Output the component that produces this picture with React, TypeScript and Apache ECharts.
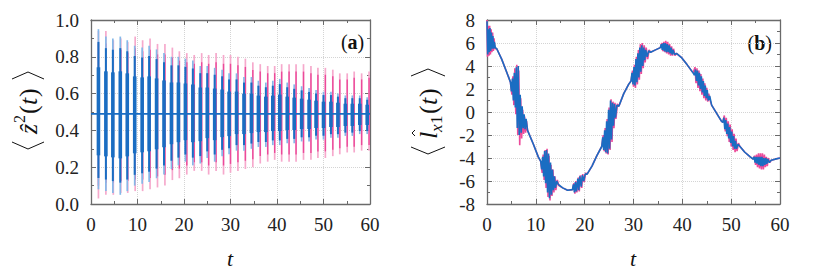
import React, { useEffect, useRef } from "react";
import * as echarts from "echarts";

// ---------- Panel (a): spikes of <z^2(t)> ----------
const BASE_A = [0.49];
const blueT = [1.6, 3.2, 4.7, 6.3, 7.8, 9.4, 11.0, 12.5, 14.1, 15.7, 17.3, 18.8, 20.3, 21.9, 23.5, 25.0, 26.6, 28.2, 29.7, 31.3, 32.9, 34.5, 36.0, 37.6, 39.1, 40.6, 42.2, 43.7, 45.3, 46.9, 48.4, 50.0, 51.6, 53.1, 54.7, 56.2, 57.8, 59.4];
const blueMax = [0.95, 0.91, 0.9, 0.91, 0.89, 0.86, 0.85, 0.86, 0.84, 0.82, 0.8, 0.8, 0.79, 0.78, 0.75, 0.75, 0.74, 0.73, 0.71, 0.71, 0.69, 0.69, 0.67, 0.66, 0.67, 0.68, 0.66, 0.65, 0.64, 0.63, 0.62, 0.61, 0.61, 0.6, 0.59, 0.59, 0.59, 0.58];
const blueMin = [0.08, 0.07, 0.06, 0.05, 0.07, 0.1, 0.11, 0.12, 0.14, 0.16, 0.19, 0.21, 0.23, 0.21, 0.22, 0.25, 0.23, 0.26, 0.27, 0.29, 0.29, 0.3, 0.31, 0.31, 0.32, 0.32, 0.33, 0.33, 0.34, 0.34, 0.35, 0.35, 0.36, 0.36, 0.37, 0.37, 0.38, 0.38];
const pinkT = [1.6, 3.2, 4.8, 6.4, 7.9, 9.5, 11.1, 12.7, 14.3, 15.9, 17.5, 19.0, 20.6, 22.2, 23.8, 25.3, 26.9, 28.5, 30.0, 31.6, 33.2, 34.8, 36.4, 38.0, 39.5, 41.0, 42.6, 44.1, 45.7, 47.3, 48.8, 50.4, 52.0, 53.5, 55.1, 56.6, 58.2, 59.8];
const pinkMax = [0.94, 0.94, 0.89, 0.9, 0.88, 0.91, 0.89, 0.9, 0.87, 0.87, 0.85, 0.83, 0.82, 0.81, 0.82, 0.81, 0.82, 0.81, 0.81, 0.8, 0.79, 0.77, 0.76, 0.75, 0.75, 0.76, 0.76, 0.76, 0.76, 0.75, 0.74, 0.74, 0.73, 0.71, 0.71, 0.72, 0.71, 0.72];
const pinkMin = [0.03, 0.05, 0.05, 0.06, 0.06, 0.07, 0.07, 0.08, 0.09, 0.1, 0.13, 0.14, 0.16, 0.18, 0.18, 0.16, 0.18, 0.16, 0.17, 0.18, 0.19, 0.2, 0.22, 0.23, 0.24, 0.23, 0.23, 0.23, 0.24, 0.24, 0.25, 0.25, 0.26, 0.27, 0.28, 0.28, 0.29, 0.29];

// ---------- Panel (b): <l_x1(t)> ----------
const bBlue: number[][] = [
  [0, 7.9], [0.15, 5.0], [0.3, 7.2], [0.45, 5.2], [0.6, 7.3], [0.75, 5.3], [0.9, 6.9], [1.05, 5.5], [1.2, 6.6], [1.35, 5.5], [1.5, 6.1], [1.7, 5.6], [2.0, 5.5],
  [3.0, 4.6], [4.0, 3.5], [4.8, 2.6],
  [5.0, 1.8], [5.2, 2.9], [5.4, 1.0], [5.6, 3.4], [5.8, 0.4], [6.0, 3.9], [6.2, -1.4], [6.4, 4.0], [6.6, -2.0], [6.8, 1.5], [7.0, -1.8], [7.2, 0.5], [7.4, -1.4], [7.6, -0.2], [7.8, -1.5], [8.0, -0.6], [8.3, -1.6],
  [9.5, -2.8], [10.5, -3.9], [11.0, -4.3],
  [11.2, -5.0], [11.4, -3.9], [11.6, -5.6], [11.8, -3.4], [12.0, -6.2], [12.2, -3.3], [12.4, -7.0], [12.6, -3.6], [12.8, -7.5], [13.0, -4.4], [13.2, -7.2], [13.4, -5.0], [13.6, -6.8], [13.8, -5.6], [14.0, -6.6], [14.3, -6.0], [14.6, -6.3],
  [15.5, -6.6], [16.5, -6.8], [17.5, -6.75],
  [17.7, -6.3], [17.9, -7.0], [18.1, -6.1], [18.3, -6.9], [18.6, -5.8], [18.8, -6.8], [19.0, -5.6], [19.3, -6.5], [19.5, -5.5], [19.8, -6.0], [20.1, -5.4], [20.5, -5.4],
  [21.5, -4.7], [22.5, -3.8], [23.5, -3.0],
  [23.7, -2.2], [23.9, -3.3], [24.1, -1.6], [24.3, -3.5], [24.5, -0.8], [24.7, -3.6], [24.9, 0.2], [25.1, -3.2], [25.3, 1.0], [25.5, -2.4], [25.7, 0.8], [25.9, -1.2], [26.1, 0.7], [26.3, -0.5], [26.6, 0.6], [27.0, 0.5],
  [28.0, 1.6], [29.0, 2.4], [29.5, 2.7],
  [29.7, 3.4], [29.9, 2.4], [30.1, 3.9], [30.3, 2.3], [30.5, 4.6], [30.7, 2.6], [30.9, 5.1], [31.1, 3.0], [31.3, 5.6], [31.5, 3.5], [31.7, 5.8], [31.9, 4.0], [32.1, 5.6], [32.3, 4.5], [32.5, 5.4], [32.8, 4.8], [33.1, 5.3], [33.5, 5.2],
  [34.5, 5.4], [35.5, 5.6],
  [35.7, 5.9], [35.9, 5.4], [36.1, 6.0], [36.3, 5.3], [36.5, 6.0], [36.7, 5.2], [36.9, 5.9], [37.1, 5.2], [37.3, 5.8], [37.5, 5.1], [37.7, 5.6], [37.9, 5.0], [38.1, 5.4], [38.4, 5.0], [38.8, 5.1],
  [39.9, 4.7], [41.0, 4.1], [42.2, 3.4],
  [42.5, 3.2], [42.7, 3.7], [42.9, 2.7], [43.1, 3.6], [43.3, 2.3], [43.5, 3.4], [43.7, 2.0], [43.9, 3.1], [44.1, 1.7], [44.3, 2.7], [44.5, 1.4], [44.7, 2.3], [44.9, 1.2], [45.1, 1.9], [45.3, 1.0], [45.6, 1.4], [46.0, 0.6],
  [47.0, -0.1], [48.0, -0.8], [48.3, -0.9],
  [48.5, -0.5], [48.7, -1.5], [48.9, -0.7], [49.1, -1.9], [49.3, -1.0], [49.5, -2.3], [49.7, -1.3], [49.9, -2.7], [50.1, -1.7], [50.3, -3.0], [50.5, -2.1], [50.7, -3.2], [50.9, -2.5], [51.1, -3.2], [51.4, -2.8], [51.8, -3.0],
  [52.8, -3.5], [53.9, -3.9], [54.5, -4.1],
  [54.7, -3.9], [54.9, -4.4], [55.1, -3.9], [55.3, -4.5], [55.5, -3.9], [55.7, -4.6], [55.9, -3.9], [56.1, -4.7], [56.3, -3.9], [56.5, -4.7], [56.7, -4.0], [56.9, -4.6], [57.1, -4.0], [57.3, -4.5], [57.5, -4.1], [57.8, -4.4], [58.2, -4.2],
  [59.0, -4.1], [60.0, -4.0],
];
const bPink: number[][] = [
  [0, 8.0], [0.1, 4.8], [0.25, 7.5], [0.4, 4.9], [0.55, 7.5], [0.7, 5.0], [0.85, 7.2], [1.0, 5.2], [1.15, 6.9], [1.3, 5.3], [1.45, 6.4], [1.6, 5.5], [2.0, 5.5],
  [3.0, 4.6], [4.0, 3.5], [4.8, 2.6],
  [5.1, 1.5], [5.3, 3.1], [5.5, 0.6], [5.7, 3.8], [5.9, -0.2], [6.1, 4.1], [6.3, -2.0], [6.5, 3.6], [6.7, -2.9], [6.9, 1.2], [7.1, -2.3], [7.3, 0.2], [7.5, -1.9], [7.7, -0.4], [7.9, -1.8], [8.1, -0.8], [8.3, -1.6],
  [9.5, -2.8], [10.5, -3.9], [11.0, -4.3],
  [11.3, -5.3], [11.5, -3.7], [11.7, -5.9], [11.9, -3.3], [12.1, -6.6], [12.3, -3.2], [12.5, -7.4], [12.7, -3.8], [12.9, -7.7], [13.1, -4.6], [13.3, -7.3], [13.5, -5.0], [13.7, -7.0], [13.9, -5.6], [14.1, -6.8], [14.4, -5.9], [14.7, -6.4],
  [15.5, -6.6], [16.5, -6.8], [17.5, -6.75],
  [17.8, -6.2], [18.0, -7.1], [18.2, -6.0], [18.4, -7.0], [18.7, -5.7], [18.9, -6.9], [19.1, -5.5], [19.4, -6.6], [19.6, -5.4], [19.9, -6.1], [20.2, -5.3], [20.5, -5.4],
  [21.5, -4.7], [22.5, -3.8], [23.5, -3.0],
  [23.8, -2.0], [24.0, -3.4], [24.2, -1.4], [24.4, -3.6], [24.6, -0.6], [24.8, -3.7], [25.0, 0.4], [25.2, -3.3], [25.4, 1.1], [25.6, -2.6], [25.8, 0.9], [26.0, -1.4], [26.2, 0.8], [26.4, -0.6], [26.7, 0.7], [27.0, 0.5],
  [28.0, 1.6], [29.0, 2.4], [29.5, 2.7],
  [29.8, 3.6], [30.0, 2.2], [30.2, 4.1], [30.4, 2.1], [30.6, 4.8], [30.8, 2.4], [31.0, 5.4], [31.2, 2.8], [31.4, 5.9], [31.6, 3.3], [31.8, 6.0], [32.0, 3.8], [32.2, 5.8], [32.4, 4.3], [32.6, 5.6], [32.9, 4.6], [33.2, 5.4], [33.5, 5.2],
  [34.5, 5.4], [35.5, 5.6],
  [35.8, 6.0], [36.0, 5.3], [36.2, 6.1], [36.4, 5.2], [36.6, 6.2], [36.8, 5.1], [37.0, 6.1], [37.2, 5.0], [37.4, 5.9], [37.6, 4.9], [37.8, 5.7], [38.0, 4.9], [38.2, 5.5], [38.5, 4.9], [38.8, 5.1],
  [39.9, 4.7], [41.0, 4.1], [42.2, 3.4],
  [42.6, 3.9], [42.8, 2.5], [43.0, 3.8], [43.2, 2.1], [43.4, 3.6], [43.6, 1.8], [43.8, 3.3], [44.0, 1.5], [44.2, 2.9], [44.4, 1.2], [44.6, 2.5], [44.8, 1.0], [45.0, 2.1], [45.2, 0.9], [45.4, 1.6], [45.7, 1.0], [46.0, 0.6],
  [47.0, -0.1], [48.0, -0.8], [48.3, -0.9],
  [48.6, -0.3], [48.8, -1.7], [49.0, -0.5], [49.2, -2.1], [49.4, -0.8], [49.6, -2.6], [49.8, -1.1], [50.0, -3.0], [50.2, -1.5], [50.4, -3.3], [50.6, -1.9], [50.8, -3.5], [51.0, -2.3], [51.2, -3.4], [51.5, -2.7], [51.8, -3.0],
  [52.8, -3.5], [53.9, -3.9], [54.5, -4.1],
  [54.8, -3.8], [55.0, -4.6], [55.2, -3.7], [55.4, -4.8], [55.6, -3.6], [55.8, -4.9], [56.0, -3.6], [56.2, -5.0], [56.4, -3.6], [56.6, -5.0], [56.8, -3.7], [57.0, -4.8], [57.2, -3.9], [57.4, -4.7], [57.6, -4.0], [57.9, -4.4], [58.2, -4.2],
  [59.0, -4.1], [60.0, -4.0],
];

const X_RANGE = [0, 60];
const A_RANGE = [0, 1];
const B_RANGE = [-8, 8];

const FONT = "Liberation Serif";
const AX = "#6a6a6a";
const BLUE = "#1a6dc2";
const BLUE_L = "#86b8e8";
const PINK = "#ec4a9a";
const PINK_L = "#f6a9cc";

function xAx(grid: number, position: string, label: boolean) {
  return {
    type: "value", gridIndex: grid, min: X_RANGE[0], max: X_RANGE[1], interval: 10, position,
    axisLine: { show: true, onZero: false, lineStyle: { color: AX, width: 1.3 } },
    axisTick: { show: true, inside: true, length: 5, lineStyle: { color: AX } },
    minorTick: { show: true, splitNumber: 2, length: 3, lineStyle: { color: AX } },
    axisLabel: { show: label, fontFamily: FONT, fontSize: 19, color: "#222", margin: 11 },
    splitLine: { show: label, lineStyle: { type: "dotted", color: "#d4d4d4" } },
  };
}
function yAx(grid: number, position: string, label: boolean, range: number[], interval: number, fmt: (v: number) => string) {
  return {
    type: "value", gridIndex: grid, min: range[0], max: range[1], interval, position,
    axisLine: { show: true, onZero: false, lineStyle: { color: AX, width: 1.3 } },
    axisTick: { show: true, inside: true, length: 5, lineStyle: { color: AX } },
    minorTick: { show: true, splitNumber: 2, length: 3, lineStyle: { color: AX } },
    axisLabel: { show: label, fontFamily: FONT, fontSize: 19, color: "#222", margin: 12, formatter: fmt },
    splitLine: { show: label, lineStyle: { type: "dotted", color: "#d4d4d4" } },
  };
}

function spikeSeries(t: number[], hi: number[], lo: number[], kind: "blue" | "pink") {
  return {
    type: "custom",
    xAxisIndex: 0,
    yAxisIndex: 0,
    encode: { x: 0, y: [1, 2] },
    data: t.map((v, i) => [v, hi[i], lo[i]]),
    renderItem: (_p: any, api: any) => {
      const tv = api.value(0);
      const top = api.coord([tv, api.value(1)]);
      const bot = api.coord([tv, api.value(2)]);
      const mid = api.coord([tv, BASE_A[0]]);
      const x = top[0];
      const iT = mid[1] + (top[1] - mid[1]) * 0.85;
      const iB = mid[1] + (bot[1] - mid[1]) * 0.85;
      const mT = mid[1] + (top[1] - mid[1]) * 0.55;
      const mB = mid[1] + (bot[1] - mid[1]) * 0.55;
      if (kind === "pink") {
        return {
          type: "group",
          children: [
            { type: "line", shape: { x1: x, y1: top[1], x2: x, y2: bot[1] }, style: { stroke: PINK_L, lineWidth: 1.7 } },
            { type: "line", shape: { x1: x, y1: iT, x2: x, y2: iB }, style: { stroke: PINK, lineWidth: 1.4 } },
          ],
        };
      }
      return {
        type: "group",
        children: [
          { type: "line", shape: { x1: x, y1: top[1], x2: x, y2: bot[1] }, style: { stroke: BLUE_L, lineWidth: 1.7 } },
          { type: "line", shape: { x1: x, y1: iT, x2: x, y2: iB }, style: { stroke: BLUE, lineWidth: 2 } },
          { type: "line", shape: { x1: x, y1: mT, x2: x, y2: mB }, style: { stroke: BLUE, lineWidth: 3.6 } },
        ],
      };
    },
  };
}

function tx(text: string, x: number, y: number, size: number, italic = false, bold = false) {
  const style: any = { text, fontFamily: FONT, fontSize: size, fill: "#111", align: "left", verticalAlign: "middle" };
  if (italic) style.fontStyle = "italic";
  if (bold) style.fontWeight = "bold";
  return { type: "text", x, y, style };
}
function seg(x1: number, y1: number, x2: number, y2: number) {
  return { type: "line", shape: { x1, y1, x2, y2 }, style: { stroke: "#111", lineWidth: 1 } };
}
function bracket(x: number, dir: number, h: number) {
  return [seg(x, -h, x - dir * 7, 0), seg(x - dir * 7, 0, x, h)];
}

const option: any = {
  animation: false,
  backgroundColor: "#fff",
  grid: [
    { left: 91, top: 20, width: 279, height: 184 },
    { left: 487, top: 20, width: 293, height: 184 },
  ],
  xAxis: [xAx(0, "bottom", true), xAx(0, "top", false), xAx(1, "bottom", true), xAx(1, "top", false)],
  yAxis: [
    yAx(0, "left", true, A_RANGE, 0.2, (v: number) => v.toFixed(1)),
    yAx(0, "right", false, A_RANGE, 0.2, (v: number) => v.toFixed(1)),
    yAx(1, "left", true, B_RANGE, 2, (v: number) => String(v)),
    yAx(1, "right", false, B_RANGE, 2, (v: number) => String(v)),
  ],
  series: [
    spikeSeries(pinkT, pinkMax, pinkMin, "pink"),
    spikeSeries(blueT, blueMax, blueMin, "blue"),
    {
      type: "line", xAxisIndex: 0, yAxisIndex: 0, symbol: "none",
      data: [[X_RANGE[0], BASE_A[0]], [X_RANGE[1], BASE_A[0]]],
      lineStyle: { color: BLUE, width: 1.8 },
    },
    {
      type: "line", xAxisIndex: 2, yAxisIndex: 2, symbol: "none", data: bPink,
      lineStyle: { color: PINK, width: 1.6 },
    },
    {
      type: "line", xAxisIndex: 2, yAxisIndex: 2, symbol: "none", data: bBlue,
      lineStyle: { color: BLUE, width: 1.6 },
    },
  ],
  graphic: [
    {
      type: "group", x: 28, y: 112, rotation: Math.PI / 2,
      children: [
        ...bracket(-30, 1, 16),
        tx("ẑ", -22, 0, 26, true),
        tx("2", -11, -9, 16),
        tx("(", -2, 0, 26),
        tx("t", 7, 0, 26, true),
        tx(")", 15, 0, 26),
        ...bracket(33, -1, 16),
      ],
    },
    {
      type: "group", x: 428, y: 112, rotation: Math.PI / 2,
      children: [
        ...bracket(-35, 1, 17),
        tx("l", -27, 0, 26, true),
        seg(-24, -13, -21, -16),
        seg(-21, -16, -18, -13),
        tx("x", -20, 8, 17, true),
        tx("1", -12, 8, 17),
        tx("(", -2, 0, 26),
        tx("t", 7, 0, 26, true),
        tx(")", 15, 0, 26),
        ...bracket(36, -1, 17),
      ],
    },
    tx("t", 227, 258, 22, true),
    tx("t", 630, 258, 22, true),
    tx("(", 341, 42, 20),
    tx("a", 347.5, 42, 20, false, true),
    tx(")", 357.5, 42, 20),
    tx("(", 747.5, 43, 20),
    tx("b", 754.2, 43, 20, false, true),
    tx(")", 765.3, 43, 20),
  ],
};

export default function App() {
  const ref = useRef<HTMLDivElement>(null);
  useEffect(() => {
    const chart = echarts.init(ref.current as HTMLDivElement, null, { renderer: "svg" });
    chart.setOption(option);
    return () => chart.dispose();
  }, []);
  return (
    <div
      ref={ref}
      style={{ position: "fixed", left: 0, top: 0, width: 818, height: 273, background: "#fff" }}
    />
  );
}
